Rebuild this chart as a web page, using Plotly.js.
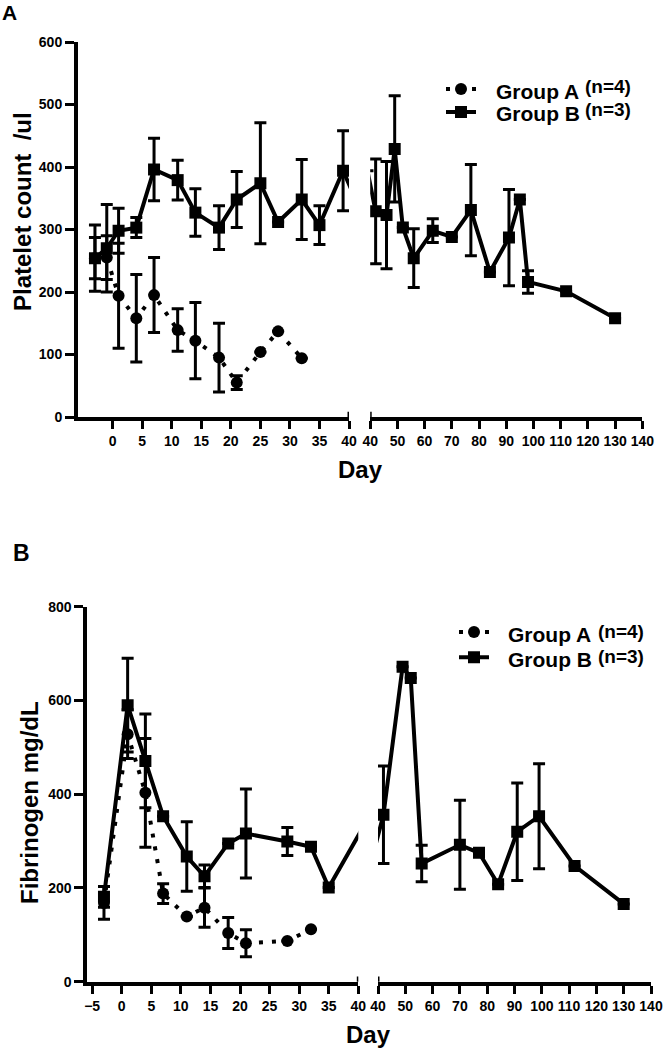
<!DOCTYPE html>
<html>
<head>
<meta charset="utf-8">
<script src="https://cdn.plot.ly/plotly-3.0.1.min.js"></script>
<style>html,body{margin:0;padding:0;background:#fff;}#chart{width:663px;height:1050px;}</style>
</head>
<body>
<div id="chart"></div>
<script>
// ---- Panel A: platelet count /ul ----
var platDaysA = [-3, -1, 1, 4, 7, 11, 14, 18, 21, 25, 28, 32];
var platA     = [254, 255, 194, 158, 195, 139, 122, 95, 55, 104, 137, 94];
var platAErr  = [33, 35, 84, 70, 60, 34, 61, 55, 11, null, null, null];

var platDaysB = [-3, -1, 1, 4, 7, 11, 14, 18, 21, 25, 28, 32, 35, 39, 42, 46, 49, 52, 56, 63, 70, 77, 84, 91, 95, 98, 112, 130];
var platB     = [254, 270, 298, 303, 396, 379, 327, 303, 348, 374, 312, 348, 307, 394, 329, 323, 429, 303, 254, 298, 288, 331, 232, 287, 348, 216, 201, 158];
var platBErr  = [53, 70, 36, 16, 50, 32, 38, 35, 45, 97, null, 64, 31, 64, 84, 86, 85, null, 47, 19, null, 73, null, 77, null, 18, null, null];

// ---- Panel B: fibrinogen mg/dL ----
var fibDaysA = [-3, 1, 4, 7, 11, 14, 18, 21, 28, 32];
var fibA     = [168, 528, 403, 188, 139, 158, 104, 82, 87, 112];
var fibAErr  = [35, 52, 116, 21, null, 42, 33, 29, null, null];

var fibDaysB = [-3, 1, 4, 7, 11, 14, 18, 21, 28, 32, 35, 42, 49, 52, 56, 70, 77, 84, 91, 99, 112, 130];
var fibB     = [181, 590, 471, 353, 267, 225, 295, 316, 299, 288, 201, 356, 672, 648, 252, 292, 275, 208, 320, 353, 247, 166];
var fibBErr  = [22, 100, 100, null, 74, 24, null, 95, 30, null, null, 104, null, null, 39, 95, null, null, 104, 112, null, null];

// tick labels / legend labels
var ticksA1 = [0, 5, 10, 15, 20, 25, 30, 35, 40];
var ticksB1 = [-5, 0, 5, 10, 15, 20, 25, 30, 35, 40];
var ticks2  = [40, 50, 60, 70, 80, 90, 100, 110, 120, 130, 140];
var groupNames = ['Group A', 'Group B'];
var groupN = ['(n=4)', '(n=3)'];
var BREAK = 40;

var FONT = 'Liberation Sans, Arial, Helvetica, sans-serif';
var W = 663, H = 1050;

function errObj(arr) {
  return {type: 'data', array: arr, visible: true, color: '#000', thickness: 3, width: 6};
}
// on the right-hand segment, hide markers / error bars of points left of the break
function seg2Err(days, err) { return days.map(function (d, i) { return d < BREAK ? null : err[i]; }); }
function seg2Size(days) { return days.map(function (d) { return d < BREAK ? 0 : 12; }); }

function groupA(x, y, err, xa, ya, leg, show) {
  return {
    type: 'scatter', mode: 'lines+markers', x: x, y: y, xaxis: xa, yaxis: ya,
    name: ' ', legend: leg, showlegend: show,
    line: {color: '#000', width: 4, dash: '4px,9px'},
    marker: {symbol: 'circle', size: 12, color: '#000', opacity: 1, line: {width: 0}},
    error_y: errObj(err), hoverinfo: 'x+y'
  };
}
function groupB(x, y, err, xa, ya, leg, show, size) {
  return {
    type: 'scatter', mode: 'lines+markers', x: x, y: y, xaxis: xa, yaxis: ya,
    name: ' ', legend: leg, showlegend: show,
    line: {color: '#000', width: 4},
    marker: {symbol: 'square', size: size || 12, color: '#000', opacity: 1, line: {width: 0}},
    error_y: errObj(err), hoverinfo: 'x+y'
  };
}

var data = [
  groupA(platDaysA, platA, platAErr, 'x', 'y', 'legend', true),
  groupB(platDaysB, platB, platBErr, 'x', 'y', 'legend', true),
  groupB(platDaysB, platB, seg2Err(platDaysB, platBErr), 'x2', 'y2', 'legend', false, seg2Size(platDaysB)),
  groupA(fibDaysA, fibA, fibAErr, 'x3', 'y3', 'legend2', true),
  groupB(fibDaysB, fibB, fibBErr, 'x3', 'y3', 'legend2', true),
  groupB(fibDaysB, fibB, seg2Err(fibDaysB, fibBErr), 'x4', 'y4', 'legend2', false, seg2Size(fibDaysB))
];

function xAx(dom, rng, anchor, tv) {
  return {
    domain: dom, range: rng, anchor: anchor, tickmode: 'array', tickvals: tv,
    showline: true, linewidth: 4, linecolor: '#000',
    ticks: 'outside', ticklen: 8, tickwidth: 3, tickcolor: '#000',
    tickfont: {family: FONT, size: 14, color: '#000', weight: 'bold'},
    showgrid: false, zeroline: false, fixedrange: true
  };
}
function yAx(dom, rng, anchor, dt, vis) {
  return {
    domain: dom, range: rng, anchor: anchor, dtick: dt, tick0: 0, visible: vis,
    showline: true, linewidth: 4, linecolor: '#000',
    ticks: 'outside', ticklen: 9, tickwidth: 3, tickcolor: '#000',
    tickfont: {family: FONT, size: 14, color: '#000', weight: 'bold'},
    showgrid: false, zeroline: false, fixedrange: true
  };
}

var domYA = [1 - 417 / H, 1 - 42 / H];
var domYB = [1 - 981.7 / H, 1 - 606.7 / H];

function txt(t, px, py, size, opts) {
  var a = {text: t, xref: 'paper', yref: 'paper', x: px / W, y: 1 - py / H,
    xanchor: 'center', yanchor: 'middle', showarrow: false,
    font: {family: FONT, size: size, color: '#000', weight: 'bold'}};
  for (var k in (opts || {})) a[k] = opts[k];
  return a;
}

var layout = {
  width: W, height: H,
  margin: {l: 0, r: 0, t: 0, b: 0},
  paper_bgcolor: '#fff', plot_bgcolor: 'rgba(0,0,0,0)',
  font: {family: FONT, color: '#000'},
  xaxis:  xAx([78 / W, 349 / W], [-5.87, 40], 'y', ticksA1),
  xaxis2: xAx([370.2 / W, 642.3 / W], [40, 140], 'y2', ticks2),
  xaxis3: xAx([87.3 / W, 358.3 / W], [-5.82, 40], 'y3', ticksB1),
  xaxis4: xAx([378 / W, 651 / W], [40, 140], 'y4', ticks2),
  yaxis:  yAx(domYA, [0, 600], 'x', 100, true),
  yaxis2: yAx(domYA, [0, 600], 'x2', 100, false),
  yaxis3: yAx(domYB, [0, 800], 'x3', 200, true),
  yaxis4: yAx(domYB, [0, 800], 'x4', 200, false),
  legend: {
    x: 441 / W, y: 1 - 72.5 / H, xanchor: 'left', yanchor: 'top',
    bgcolor: 'rgba(0,0,0,0)', borderwidth: 0, itemwidth: 30,
    font: {family: FONT, size: 15.4, color: '#000'}
  },
  legend2: {
    x: 454 / W, y: 1 - 614.5 / H, xanchor: 'left', yanchor: 'top',
    bgcolor: 'rgba(0,0,0,0)', borderwidth: 0, itemwidth: 30,
    font: {family: FONT, size: 17, color: '#000'}
  },
  shapes: [
    {type: 'line', xref: 'x', yref: 'y domain', x0: 40, x1: 40, y0: 0, y1: 0.014, line: {color: '#000', width: 3}},
    {type: 'line', xref: 'x2', yref: 'y2 domain', x0: 40, x1: 40, y0: 0, y1: 0.014, line: {color: '#000', width: 3}},
    {type: 'line', xref: 'x3', yref: 'y3 domain', x0: 40, x1: 40, y0: 0, y1: 0.014, line: {color: '#000', width: 3}},
    {type: 'line', xref: 'x4', yref: 'y4 domain', x0: 40, x1: 40, y0: 0, y1: 0.014, line: {color: '#000', width: 3}}
  ],
  annotations: [
    txt('A', 9, 12, 21),
    txt('B', 21, 553, 23),
    txt('Platelet count  /ul', 22, 212, 24, {textangle: -90}),
    txt('Fibrinogen mg/dL', 29, 803, 24, {textangle: -90}),
    txt('Day', 361, 470, 24),
    txt('Day', 368, 1034, 24),
    // legend labels, panel A
    txt(groupNames[0], 494, 91, 21, {xanchor: 'left'}),
    txt(groupN[0], 583, 86, 19, {xanchor: 'left'}),
    txt(groupNames[1], 494, 114, 21, {xanchor: 'left'}),
    txt(groupN[1], 583, 110, 19, {xanchor: 'left'}),
    // legend labels, panel B
    txt(groupNames[0], 506, 634, 21, {xanchor: 'left'}),
    txt(groupN[0], 596, 631, 19, {xanchor: 'left'}),
    txt(groupNames[1], 506, 659, 21, {xanchor: 'left'}),
    txt(groupN[1], 596, 656, 19, {xanchor: 'left'})
  ]
};

Plotly.newPlot('chart', data, layout, {staticPlot: true, displayModeBar: false});
</script>
</body>
</html>
